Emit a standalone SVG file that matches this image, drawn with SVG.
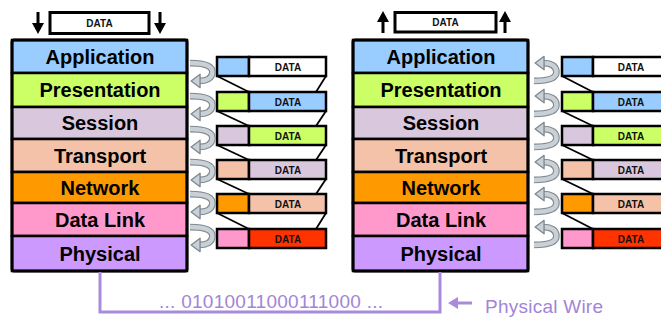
<svg xmlns="http://www.w3.org/2000/svg" xmlns:xlink="http://www.w3.org/1999/xlink" width="661" height="320" viewBox="0 0 661 320">
<style>
.lay{stroke:#000;stroke-width:2.5}
.lbl{font-family:"Liberation Sans",Arial,sans-serif;font-weight:bold;font-size:20px;text-anchor:middle;fill:#000}
.dt{font-family:"Liberation Sans",Arial,sans-serif;font-weight:bold;font-size:10px;text-anchor:middle;fill:#111}
.box{stroke:#000;stroke-width:2.5}
.diag{stroke:#000;stroke-width:1.8;fill:none}
.wire{stroke:#a88bdb;stroke-width:3;fill:none}
.wt{font-family:"Liberation Sans",Arial,sans-serif;font-size:19px;fill:#a285d6}
</style>
<defs>
<g id="uarr">
<path d="M0,-8 C12,-8 20,-6 20,0 C20,6 14,8 8,8" fill="none" stroke="#7f8890" stroke-width="6"/>
<path d="M0,-8 C12,-8 20,-6 20,0 C20,6 14,8 8.5,8" fill="none" stroke="#c9d0d6" stroke-width="4"/>
<polygon points="1,8 9,2 9,14" fill="#c9d0d6" stroke="#7f8890" stroke-width="1.2" stroke-linejoin="round"/>
</g>
<g id="darr"><rect x="-1.5" y="0" width="3" height="12" fill="#000"/><polygon points="-6,11 6,11 0,22" fill="#000"/></g>
<g id="uparr"><rect x="-1.5" y="10" width="3" height="12" fill="#000"/><polygon points="-6,11 6,11 0,0" fill="#000"/></g>
</defs>

<g id="left-stack">
<rect class="lay" x="12" y="40" width="175" height="33" fill="#99ccff"/>
<rect class="lay" x="12" y="73" width="175" height="34" fill="#ccff66"/>
<rect class="lay" x="12" y="107" width="175" height="32" fill="#d9c8dd"/>
<rect class="lay" x="12" y="139" width="175" height="33" fill="#f4c2a8"/>
<rect class="lay" x="12" y="172" width="175" height="31" fill="#ff9900"/>
<rect class="lay" x="12" y="203" width="175" height="33" fill="#ff99cc"/>
<rect class="lay" x="12" y="236" width="175" height="35" fill="#cc99ff"/>
<rect x="12" y="40" width="175" height="231" fill="none" stroke="#000" stroke-width="3" rx="2"/>
<text class="lbl" x="100" y="63.5">Application</text>
<text class="lbl" x="100" y="97">Presentation</text>
<text class="lbl" x="100" y="130">Session</text>
<text class="lbl" x="100" y="162.5">Transport</text>
<text class="lbl" x="100" y="194.5">Network</text>
<text class="lbl" x="100" y="226.5">Data Link</text>
<text class="lbl" x="100" y="260.5">Physical</text>
</g>

<g id="right-stack">
<rect class="lay" x="353" y="40" width="175" height="33" fill="#99ccff"/>
<rect class="lay" x="353" y="73" width="175" height="34" fill="#ccff66"/>
<rect class="lay" x="353" y="107" width="175" height="32" fill="#d9c8dd"/>
<rect class="lay" x="353" y="139" width="175" height="33" fill="#f4c2a8"/>
<rect class="lay" x="353" y="172" width="175" height="31" fill="#ff9900"/>
<rect class="lay" x="353" y="203" width="175" height="33" fill="#ff99cc"/>
<rect class="lay" x="353" y="236" width="175" height="35" fill="#cc99ff"/>
<rect x="353" y="40" width="175" height="231" fill="none" stroke="#000" stroke-width="3" rx="2"/>
<text class="lbl" x="441" y="63.5">Application</text>
<text class="lbl" x="441" y="97">Presentation</text>
<text class="lbl" x="441" y="130">Session</text>
<text class="lbl" x="441" y="162.5">Transport</text>
<text class="lbl" x="441" y="194.5">Network</text>
<text class="lbl" x="441" y="226.5">Data Link</text>
<text class="lbl" x="441" y="260.5">Physical</text>
</g>

<g id="left-top-data">
<rect x="50" y="12.5" width="99" height="21" fill="#fff" stroke="#000" stroke-width="3"/>
<text class="dt" x="99.5" y="27">DATA</text>
<use xlink:href="#darr" x="38" y="12"/>
<use xlink:href="#darr" x="160" y="12"/>
</g>

<g id="right-top-data">
<rect x="395" y="12.5" width="101" height="19.5" fill="#fff" stroke="#000" stroke-width="3"/>
<text class="dt" x="445.5" y="26">DATA</text>
<use xlink:href="#uparr" x="383" y="11"/>
<use xlink:href="#uparr" x="505" y="11"/>
</g>

<g id="left-encap">
<g class="diag">
<line x1="217" y1="76" x2="249" y2="92"/><line x1="326" y1="76" x2="316" y2="92"/>
<line x1="217" y1="111" x2="249" y2="126"/><line x1="326" y1="111" x2="316" y2="126"/>
<line x1="217" y1="145" x2="249" y2="160"/><line x1="326" y1="145" x2="316" y2="160"/>
<line x1="217" y1="179" x2="249" y2="194"/><line x1="326" y1="179" x2="316" y2="194"/>
<line x1="217" y1="213" x2="249" y2="229"/><line x1="326" y1="213" x2="316" y2="229"/>
</g>
<rect class="box" x="217" y="57" width="32" height="19" fill="#99ccff"/><rect class="box" x="249" y="57" width="77" height="19" fill="#fff"/><text class="dt" x="288" y="70.5">DATA</text>
<rect class="box" x="217" y="92" width="32" height="19" fill="#ccff66"/><rect class="box" x="249" y="92" width="77" height="19" fill="#99ccff"/><text class="dt" x="288" y="105.5">DATA</text>
<rect class="box" x="217" y="126" width="32" height="19" fill="#d9c8dd"/><rect class="box" x="249" y="126" width="77" height="19" fill="#ccff66"/><text class="dt" x="288" y="139.5">DATA</text>
<rect class="box" x="217" y="160" width="32" height="19" fill="#f4c2a8"/><rect class="box" x="249" y="160" width="77" height="19" fill="#d9c8dd"/><text class="dt" x="288" y="173.5">DATA</text>
<rect class="box" x="217" y="194" width="32" height="19" fill="#ff9900"/><rect class="box" x="249" y="194" width="77" height="19" fill="#f4c2a8"/><text class="dt" x="288" y="207.5">DATA</text>
<rect class="box" x="217" y="229" width="32" height="19" fill="#ff99cc"/><rect class="box" x="249" y="229" width="77" height="19" fill="#ff3300"/><text class="dt" x="288" y="242.5">DATA</text>
</g>

<g id="right-encap">
<g class="diag">
<line x1="562" y1="76" x2="593" y2="92"/><line x1="671" y1="76" x2="661" y2="92"/>
<line x1="562" y1="111" x2="593" y2="126"/><line x1="671" y1="111" x2="661" y2="126"/>
<line x1="562" y1="145" x2="593" y2="160"/><line x1="671" y1="145" x2="661" y2="160"/>
<line x1="562" y1="179" x2="593" y2="194"/><line x1="671" y1="179" x2="661" y2="194"/>
<line x1="562" y1="213" x2="593" y2="229"/><line x1="671" y1="213" x2="661" y2="229"/>
</g>
<rect class="box" x="562" y="57" width="31" height="19" fill="#99ccff"/><rect class="box" x="593" y="57" width="78" height="19" fill="#fff"/><text class="dt" x="631" y="70.5">DATA</text>
<rect class="box" x="562" y="92" width="31" height="19" fill="#ccff66"/><rect class="box" x="593" y="92" width="78" height="19" fill="#99ccff"/><text class="dt" x="631" y="105.5">DATA</text>
<rect class="box" x="562" y="126" width="31" height="19" fill="#d9c8dd"/><rect class="box" x="593" y="126" width="78" height="19" fill="#ccff66"/><text class="dt" x="631" y="139.5">DATA</text>
<rect class="box" x="562" y="160" width="31" height="19" fill="#f4c2a8"/><rect class="box" x="593" y="160" width="78" height="19" fill="#d9c8dd"/><text class="dt" x="631" y="173.5">DATA</text>
<rect class="box" x="562" y="194" width="31" height="19" fill="#ff9900"/><rect class="box" x="593" y="194" width="78" height="19" fill="#f4c2a8"/><text class="dt" x="631" y="207.5">DATA</text>
<rect class="box" x="562" y="229" width="31" height="19" fill="#ff99cc"/><rect class="box" x="593" y="229" width="78" height="19" fill="#ff3300"/><text class="dt" x="631" y="242.5">DATA</text>
</g>

<g id="connectors">
<use xlink:href="#uarr" transform="translate(190,72) scale(1.12)"/>
<use xlink:href="#uarr" transform="translate(190,105) scale(1.12)"/>
<use xlink:href="#uarr" transform="translate(190,138) scale(1.12)"/>
<use xlink:href="#uarr" transform="translate(190,171) scale(1.12)"/>
<use xlink:href="#uarr" transform="translate(190,203) scale(1.12)"/>
<use xlink:href="#uarr" transform="translate(190,236) scale(1.12)"/>
<use xlink:href="#uarr" transform="translate(534,72) scale(1.12,-1.12)"/>
<use xlink:href="#uarr" transform="translate(534,105) scale(1.12,-1.12)"/>
<use xlink:href="#uarr" transform="translate(534,138) scale(1.12,-1.12)"/>
<use xlink:href="#uarr" transform="translate(534,171) scale(1.12,-1.12)"/>
<use xlink:href="#uarr" transform="translate(534,203) scale(1.12,-1.12)"/>
<use xlink:href="#uarr" transform="translate(534,236) scale(1.12,-1.12)"/>
<path class="wire" d="M100,272 V312 H440 V272"/>
<line x1="456" y1="303" x2="472" y2="303" stroke="#a88bdb" stroke-width="3"/>
<polygon points="448,303 458,297 458,309" fill="#a88bdb"/>
</g>

<g id="wire-labels">
<text class="wt" x="159" y="308" textLength="224">... 01010011000111000 ...</text>
<text class="wt" x="485" y="313" textLength="118">Physical Wire</text>
</g>
</svg>
